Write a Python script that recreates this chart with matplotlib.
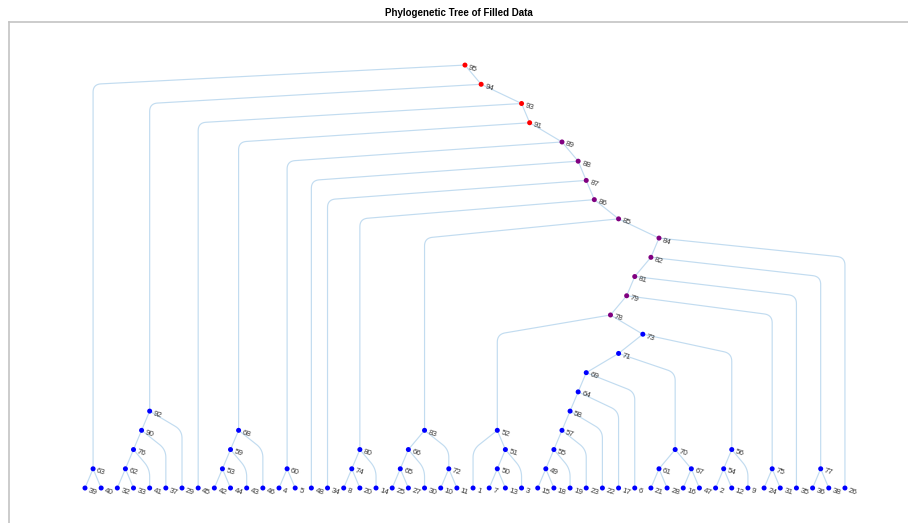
import matplotlib.pyplot as plt
import numpy as np

plt.rcParams['font.family'] = ['Liberation Sans', 'DejaVu Sans']

# leaves in the order they sit along the bottom
leaf_order = [39, 40, 32, 33, 41, 37, 29, 45, 42, 44, 43, 46, 4, 5, 48, 34, 8, 20, 14,
              25, 27, 30, 10, 11, 1, 7, 13, 3, 15, 18, 19, 23, 22, 17, 6, 21, 28, 16,
              47, 2, 12, 9, 24, 31, 35, 36, 38, 26]

# merges: node id -> (left child, right child)
merge_ids = list(range(49, 96))
merge_left = [15, 7, 50, 1, 42, 2, 49, 54, 55, 57, 53, 4, 21, 32, 39, 58, 25, 65, 16, 59,
              64, 61, 69, 10, 71, 8, 24, 62, 36, 52, 78, 74, 79, 81, 66, 82, 83, 80, 34,
              48, 60, 76, 68, 90, 45, 92, 63]
merge_right = [18, 13, 3, 51, 44, 12, 19, 9, 23, 22, 43, 5, 28, 33, 40, 17, 27, 30, 47, 46,
               6, 67, 70, 11, 56, 20, 31, 41, 38, 73, 75, 14, 35, 77, 72, 26, 84, 85, 86,
               87, 88, 37, 89, 29, 91, 93, 94]

red_nodes = [91, 93, 94, 95]
purple_nodes = [78, 79, 81, 82, 84, 85, 86, 87, 88, 89]

# node positions: x = mean of leaf slots below, y = height above the leaves
xpos, ypos, leaves_under = {}, {}, {}
for i, leaf in enumerate(leaf_order):
    xpos[leaf] = float(i)
    ypos[leaf] = 0
    leaves_under[leaf] = [i]
for nid, a, b in zip(merge_ids, merge_left, merge_right):
    leaves_under[nid] = leaves_under[a] + leaves_under[b]
    xpos[nid] = np.mean(leaves_under[nid])
    ypos[nid] = max(ypos[a], ypos[b]) + 1

fig = plt.figure(figsize=(9.08, 5.23), dpi=100)
ax = fig.add_axes([9 / 908, 0, 899 / 908, 501 / 523])
ax.set_xlim(-4.70, 50.90)
ax.set_ylim(-1.82, 24.24)
for side in ['right', 'bottom']:
    ax.spines[side].set_visible(False)
for side in ['left', 'top']:
    ax.spines[side].set_color('#c4c4c4')
    ax.spines[side].set_linewidth(1.2)
ax.set_xticks([])
ax.set_yticks([])


def edge_points(p, c, radius=8.0):
    """Elbow from parent p to child c: slanted run, rounded corner, vertical drop."""
    to_disp = ax.transData.transform
    P = to_disp(p)
    K = to_disp((c[0], p[1] - 1))
    C = to_disp(c)
    if c[1] >= p[1] - 1:
        pts = np.array([P, C])
    else:
        d1 = np.linalg.norm(P - K)
        d2 = np.linalg.norm(C - K)
        r = min(radius, 0.5 * d1, 0.5 * d2)
        A = K + (P - K) / d1 * r
        B = K + (C - K) / d2 * r
        t = np.linspace(0, 1, 15)[:, None]
        curve = (1 - t) ** 2 * A + 2 * (1 - t) * t * K + t ** 2 * B
        pts = np.vstack([P, curve, C])
    return ax.transData.inverted().transform(pts)


for nid, a, b in zip(merge_ids, merge_left, merge_right):
    for child in (a, b):
        pts = edge_points((xpos[nid], ypos[nid]), (xpos[child], ypos[child]))
        ax.plot(pts[:, 0], pts[:, 1], color='#c2dcf0', lw=0.85, zorder=1,
                solid_capstyle='round')

all_nodes = leaf_order + merge_ids
colors = ['red' if n in red_nodes else 'purple' if n in purple_nodes else 'blue'
          for n in all_nodes]
ax.scatter([xpos[n] for n in all_nodes], [ypos[n] for n in all_nodes],
           s=13, c=colors, zorder=3, linewidths=0)

for n in all_nodes:
    ax.annotate(str(n), (xpos[n], ypos[n]), xytext=(2.5, -1.5),
                textcoords='offset points', ha='left', va='center',
                rotation=-18, rotation_mode='anchor', fontsize=5.8,
                color='#3a3a3a', zorder=4)

ax.set_title('Phylogenetic Tree of Filled Data', fontsize=7, fontweight='bold',
             pad=4)

fig.savefig('out.png', dpi=100)
